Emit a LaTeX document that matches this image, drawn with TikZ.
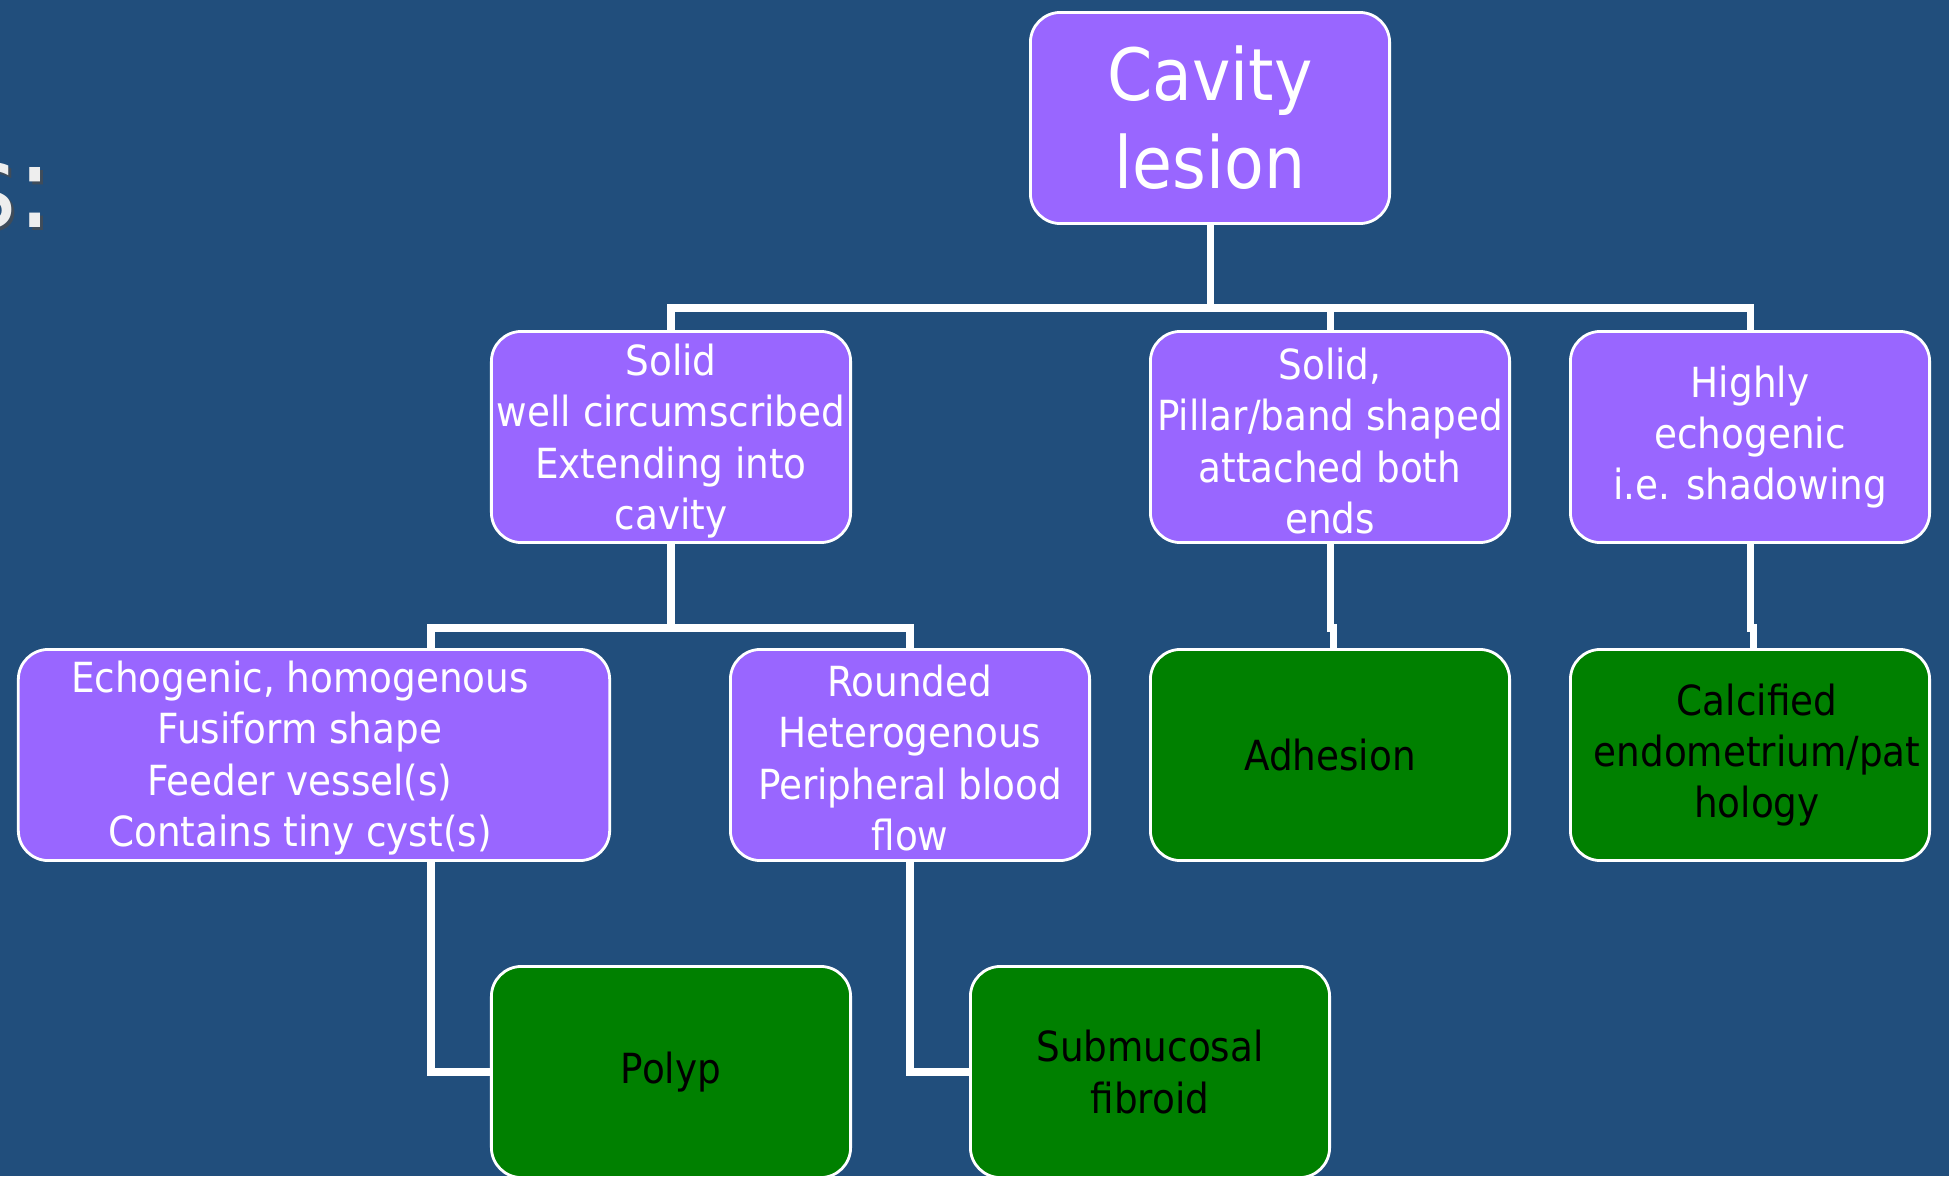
\documentclass[tikz,border=0pt]{standalone}
\usepackage{fontspec}
\setmainfont{DejaVu Sans Condensed}

\definecolor{slidebg}{RGB}{33,78,124}
\definecolor{boxpurple}{RGB}{153,102,255}
\definecolor{boxgreen}{RGB}{0,128,0}
\definecolor{titlegray}{RGB}{238,238,238}

\begin{document}
\begin{tikzpicture}[x=0.01cm,y=-0.01cm,
    card/.style={draw=white,line width=0.8pt,rounded corners=0.3cm,
      minimum width=3.59cm,minimum height=2.11cm,align=center,inner sep=0pt},
    pcard/.style={card,fill=boxpurple,text=white,
      font=\fontsize{11.8}{14.6}\selectfont},
    gcard/.style={card,fill=boxgreen,text=black,
      font=\fontsize{11.8}{14.6}\selectfont},
    cardtext/.style={align=center,inner sep=0pt,font=\fontsize{11.8}{14.6}\selectfont},
    link/.style={draw=white,line width=2pt}]

  \fill[slidebg] (0,0) rectangle (1949,1176);
  \useasboundingbox (0,0) rectangle (1949,1176);

  % cut-off slide title
  \node[anchor=base east,inner sep=0pt,text=black!70,opacity=0.7,
    font=\fontsize{33}{33}\selectfont] (titleshadow) at (56,231) {s:};
  \node[anchor=base east,inner sep=0pt,text=titlegray,
    font=\fontsize{33}{33}\selectfont] (title) at (53,228) {s:};

  % first level
  \node[pcard,font=\fontsize{20.5}{25}\selectfont] (cavity) at (1210,118) {Cavity\\lesion};

  % second level
  \node[pcard] (solid)  at (671,437)  {};
  \node[cardtext,text=white] (solidtext) at ([yshift=-0.04cm]solid.center)
    {Solid\\well circumscribed\\Extending into\\cavity};
  \node[pcard] (pillar) at (1330,437) {};
  \node[cardtext,text=white] (pillartext) at ([yshift=-0.04cm]pillar.center)
    {Solid,\\Pillar/band shaped\\attached both\\ends};
  \node[pcard] (bright) at (1750,437) {Highly\\echogenic\\i.e. shadowing};

  % third level
  \node[pcard,minimum width=5.91cm] (echo) at (314,755) {};
  \node[cardtext,text=white] (echotext) at ([xshift=-0.14cm,yshift=-0.03cm]echo.center)
    {Echogenic, homogenous\\Fusiform shape\\Feeder vessel(s)\\Contains tiny cyst(s)};
  \node[pcard] (round)    at (910,755)  {};
  \node[cardtext,text=white] (roundtext) at ([yshift=-0.03cm]round.center)
    {Rounded\\Heterogenous\\Peripheral blood\\flow};
  \node[gcard] (adhesion) at (1330,755) {Adhesion};
  \node[gcard] (calc)     at (1750,755) {};
  \node[cardtext,text=black] (calctext) at ([xshift=0.07cm]calc.center)
    {Calcified\\endometrium/pat\\hology};

  % fourth level
  \node[gcard] (polyp)   at (671,1072) {Polyp};
  \node[gcard] (fibroid) at (1150,1072) {Submucosal\\fibroid};

  % connectors
  \coordinate (bus1) at (0,308);
  \coordinate (bus2) at (0,628);
  \coordinate (e1) at (431,628);

  \draw[link] (cavity.south) -- (cavity.south |- bus1);
  \draw[link] (solid.north) |- (bright.north |- bus1) -- (bright.north);
  \draw[link] (pillar.north) -- (pillar.north |- bus1);

  \draw[link] (solid.south) -- (solid.south |- bus2);
  \draw[link] (round.north) |- (e1) -- (e1 |- echo.north);
  \draw[link] (e1 |- echo.south) |- (polyp.west);
  \draw[link] (round.south) |- (fibroid.west);

  \draw[link] (pillar.south) -- (pillar.south |- bus2)
    -- ([xshift=0.03cm]adhesion.north |- bus2) -- ([xshift=0.03cm]adhesion.north);
  \draw[link] (bright.south) -- (bright.south |- bus2)
    -- ([xshift=0.03cm]calc.north |- bus2) -- ([xshift=0.03cm]calc.north);
\end{tikzpicture}
\end{document}
